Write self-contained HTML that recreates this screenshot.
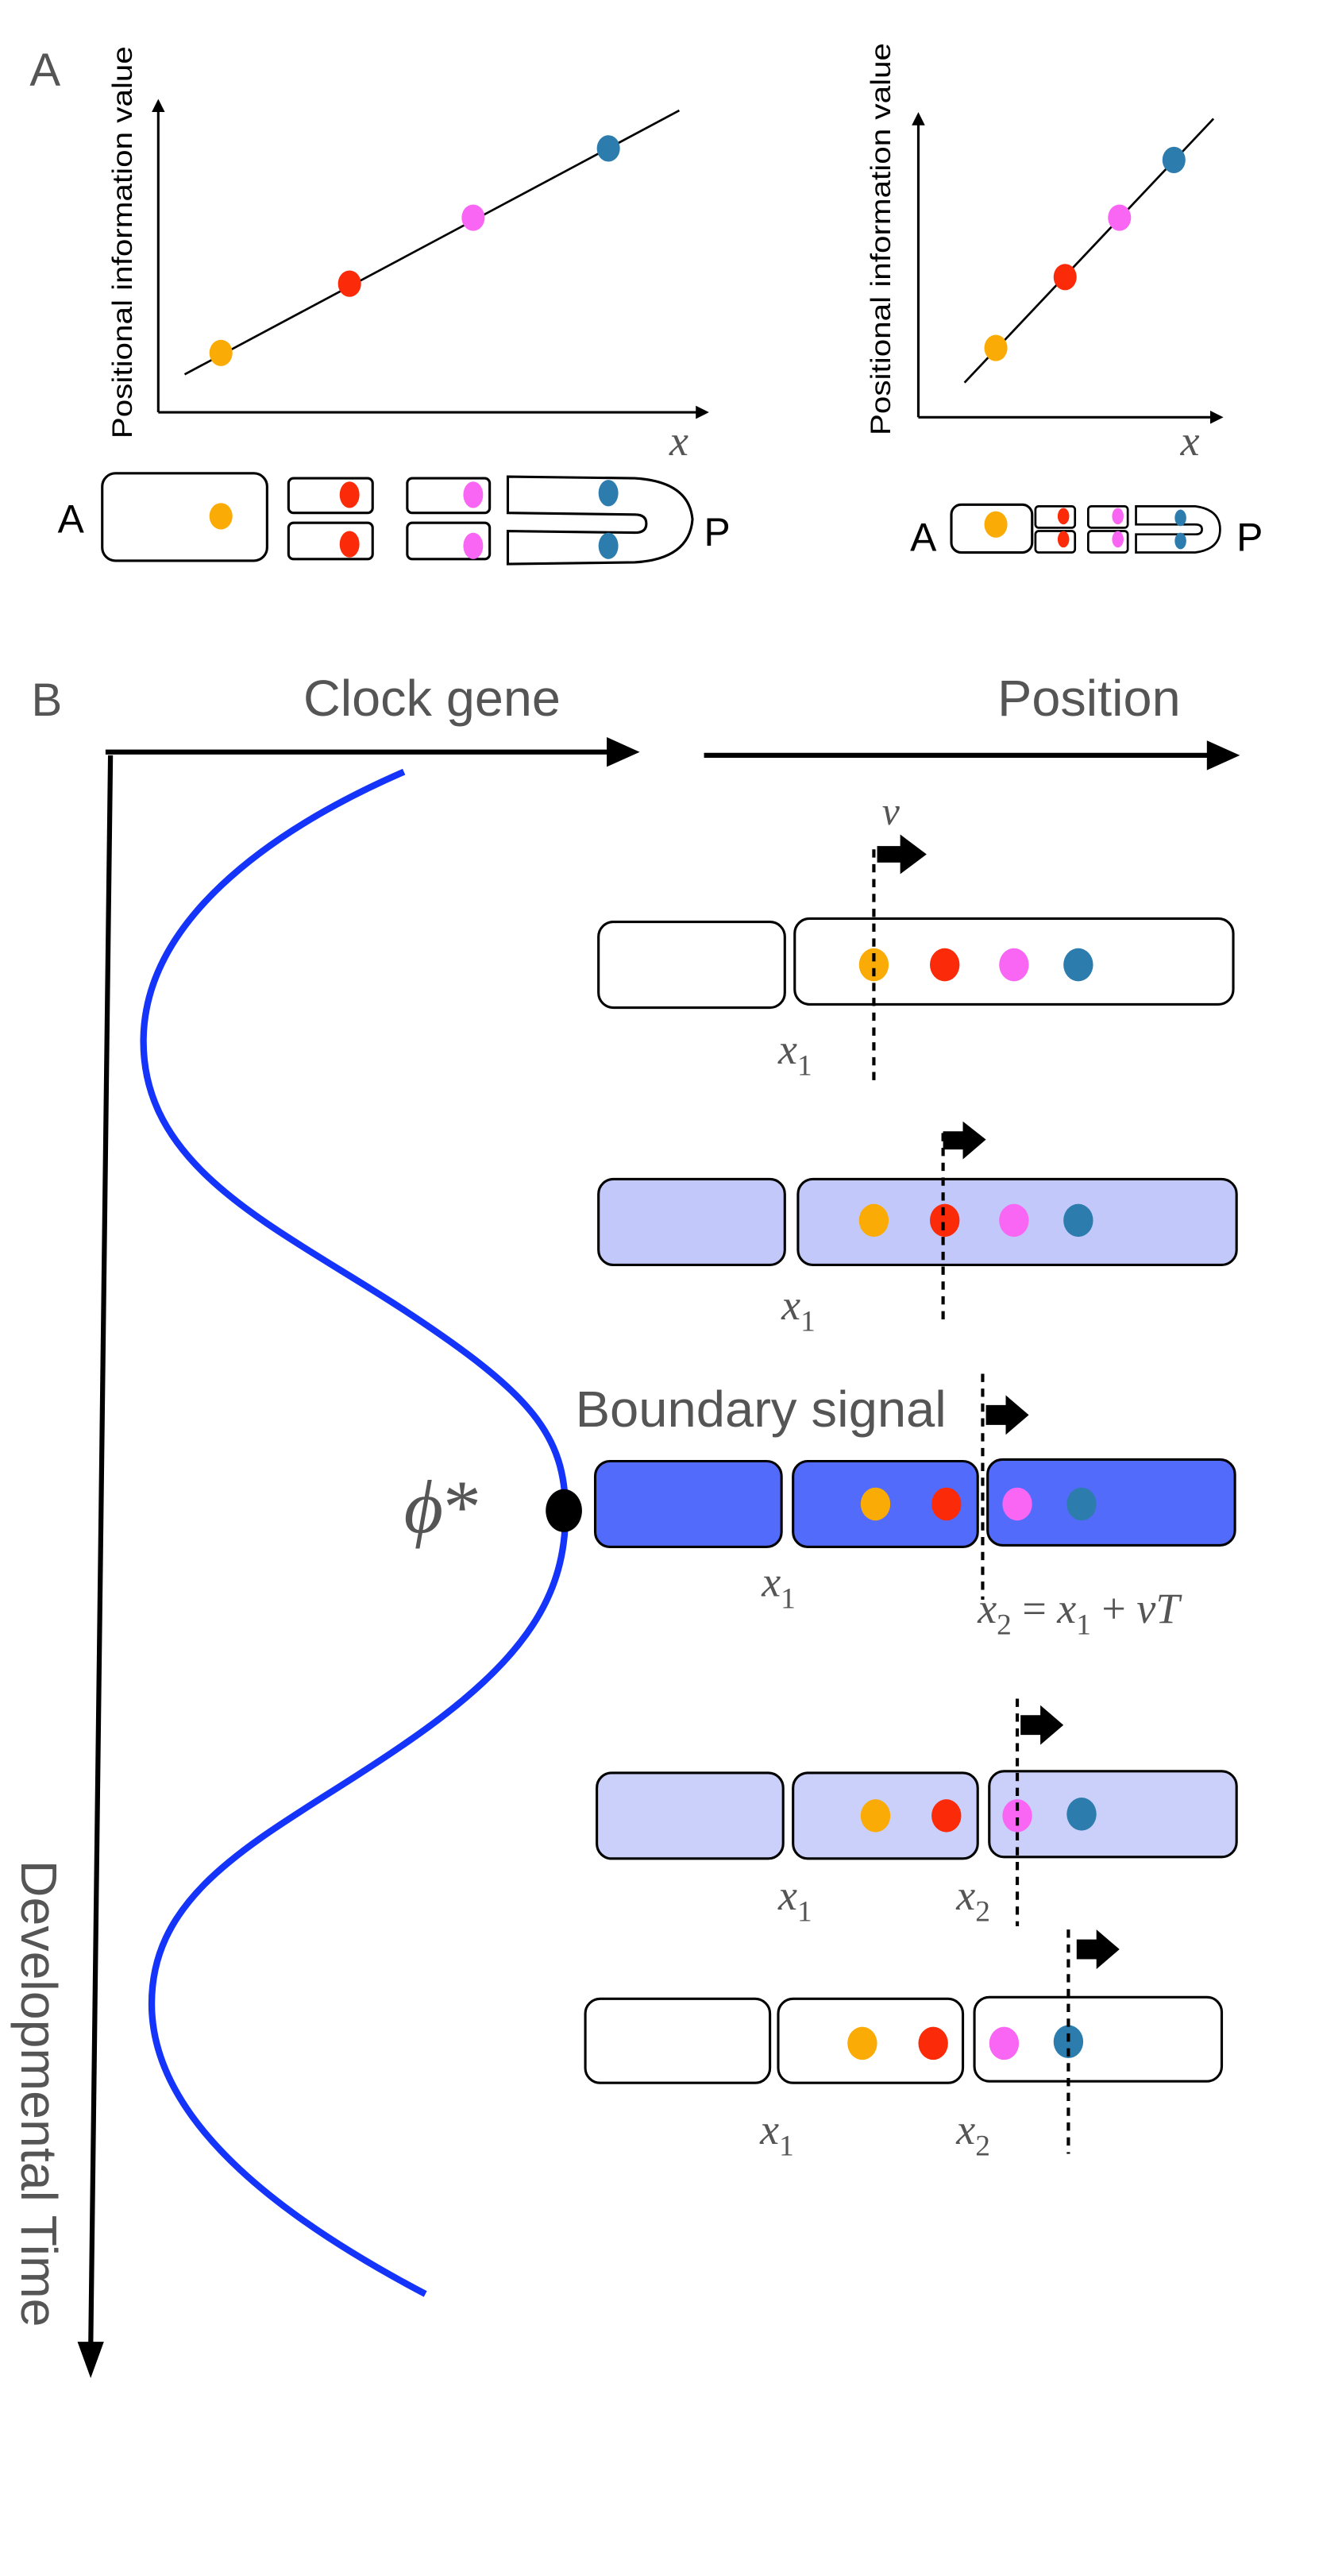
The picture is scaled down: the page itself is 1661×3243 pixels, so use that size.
<!DOCTYPE html>
<html><head><meta charset="utf-8"><style>
html,body{margin:0;padding:0;background:#fff;}
svg{display:block;}
.s{font-family:"Liberation Sans",sans-serif;fill:#555;}
.m{font-family:"Liberation Serif",serif;font-style:italic;fill:#555;}
</style></head><body>
<svg width="1661" height="3243" viewBox="0 0 800 1562" preserveAspectRatio="none" xmlns="http://www.w3.org/2000/svg">
<defs>
<marker id="ah" markerWidth="8" markerHeight="8" refX="6" refY="4" orient="auto" markerUnits="userSpaceOnUse"><path d="M0,0 L8,4 L0,8 Z" fill="#000"/></marker>
</defs>
<!-- Panel A -->
<text class="s" x="18" y="52" font-size="28">A</text>
<line x1="96" y1="250" x2="96" y2="62" stroke="#000" stroke-width="1.5" marker-end="url(#ah)"/>
<line x1="96" y1="250" x2="428" y2="250" stroke="#000" stroke-width="1.5" marker-end="url(#ah)"/>
<line x1="112" y1="227" x2="412" y2="67" stroke="#000" stroke-width="1.3"/>
<text class="s" font-size="17" transform="translate(80,147) rotate(-90)" text-anchor="middle" textLength="238" lengthAdjust="spacingAndGlyphs" style="fill:#000">Positional information value</text>
<ellipse cx="134" cy="214" rx="7" ry="8" fill="#fbab05"/>
<ellipse cx="212" cy="172" rx="7" ry="8" fill="#fb2a08"/>
<ellipse cx="287" cy="132" rx="7" ry="8" fill="#f966f4"/>
<ellipse cx="369" cy="90" rx="7" ry="8" fill="#2d7cae"/>
<text class="m" x="406" y="276" font-size="26">x</text>

<line x1="557" y1="253" x2="557" y2="70" stroke="#000" stroke-width="1.5" marker-end="url(#ah)"/>
<line x1="557" y1="253" x2="740" y2="253" stroke="#000" stroke-width="1.5" marker-end="url(#ah)"/>
<line x1="585" y1="232" x2="736" y2="72" stroke="#000" stroke-width="1.3"/>
<text class="s" font-size="17" transform="translate(540,145) rotate(-90)" text-anchor="middle" textLength="238" lengthAdjust="spacingAndGlyphs" style="fill:#000">Positional information value</text>
<ellipse cx="604" cy="211" rx="7" ry="8" fill="#fbab05"/>
<ellipse cx="646" cy="168" rx="7" ry="8" fill="#fb2a08"/>
<ellipse cx="679" cy="132" rx="7" ry="8" fill="#f966f4"/>
<ellipse cx="712" cy="97" rx="7" ry="8" fill="#2d7cae"/>
<text class="m" x="716" y="276" font-size="26">x</text>

<!-- left embryo -->
<text x="35" y="323" font-family="Liberation Sans,sans-serif" font-size="24">A</text>
<rect x="62" y="287" width="100" height="53" rx="8" fill="#fff" stroke="#000" stroke-width="1.5"/>
<ellipse cx="134" cy="313" rx="7" ry="8" fill="#fbab05"/>
<rect x="175" y="290" width="51" height="21" rx="3" fill="#fff" stroke="#000" stroke-width="1.5"/>
<rect x="175" y="317" width="51" height="22" rx="3" fill="#fff" stroke="#000" stroke-width="1.5"/>
<ellipse cx="212" cy="300" rx="6" ry="8" fill="#fb2a08"/>
<ellipse cx="212" cy="330" rx="6" ry="8" fill="#fb2a08"/>
<rect x="247" y="290" width="50" height="21" rx="3" fill="#fff" stroke="#000" stroke-width="1.5"/>
<rect x="247" y="317" width="50" height="22" rx="3" fill="#fff" stroke="#000" stroke-width="1.5"/>
<ellipse cx="287" cy="300" rx="6" ry="8" fill="#f966f4"/>
<ellipse cx="287" cy="331" rx="6" ry="8" fill="#f966f4"/>
<path d="M308,289 L385,290 Q418,292 420,315 Q418,339 385,341 L308,342 L308,322 L385,323 Q392,323 392,317.5 Q392,312 385,312 L308,311 Z" fill="#fff" stroke="#000" stroke-width="1.5"/>
<ellipse cx="369" cy="299" rx="6" ry="8" fill="#2d7cae"/>
<ellipse cx="369" cy="331" rx="6" ry="8" fill="#2d7cae"/>
<text x="427" y="331" font-family="Liberation Sans,sans-serif" font-size="24">P</text>

<!-- right embryo -->
<text x="552" y="334" font-family="Liberation Sans,sans-serif" font-size="24">A</text>
<rect x="577" y="306" width="49" height="29" rx="6" fill="#fff" stroke="#000" stroke-width="1.5"/>
<ellipse cx="604" cy="318" rx="7" ry="8" fill="#fbab05"/>
<rect x="628" y="307" width="24" height="13" rx="2" fill="#fff" stroke="#000" stroke-width="1.3"/>
<rect x="628" y="322" width="24" height="13" rx="2" fill="#fff" stroke="#000" stroke-width="1.3"/>
<ellipse cx="645" cy="313" rx="3.5" ry="5" fill="#fb2a08"/>
<ellipse cx="645" cy="327" rx="3.5" ry="5" fill="#fb2a08"/>
<rect x="660" y="307" width="24" height="13" rx="2" fill="#fff" stroke="#000" stroke-width="1.3"/>
<rect x="660" y="322" width="24" height="13" rx="2" fill="#fff" stroke="#000" stroke-width="1.3"/>
<ellipse cx="678" cy="313" rx="3.5" ry="5" fill="#f966f4"/>
<ellipse cx="678" cy="327" rx="3.5" ry="5" fill="#f966f4"/>
<path d="M689,307 L725,307 Q740,309 740,321 Q740,333 725,335 L689,335 L689,324 L725,324 Q729,324 729,321 Q729,318 725,318 L689,318 Z" fill="#fff" stroke="#000" stroke-width="1.3"/>
<ellipse cx="716" cy="314" rx="3.5" ry="5" fill="#2d7cae"/>
<ellipse cx="716" cy="328" rx="3.5" ry="5" fill="#2d7cae"/>
<text x="750" y="334" font-family="Liberation Sans,sans-serif" font-size="24">P</text>

<!-- Panel B -->
<text class="s" x="19" y="434" font-size="28">B</text>
<text class="s" x="184" y="434" font-size="31" textLength="156" lengthAdjust="spacingAndGlyphs">Clock gene</text>
<text class="s" x="605" y="434" font-size="31" textLength="111" lengthAdjust="spacingAndGlyphs">Position</text>
<line x1="64" y1="456" x2="372" y2="456" stroke="#000" stroke-width="3"/>
<path d="M368,447 L388,456 L368,465 Z" fill="#000"/>
<line x1="427" y1="458" x2="736" y2="458" stroke="#000" stroke-width="3"/>
<path d="M732,449 L752,458 L732,467 Z" fill="#000"/>
<line x1="67" y1="458" x2="55" y2="1425" stroke="#000" stroke-width="3"/>
<path d="M47,1420 L55,1442 L63,1420 Z" fill="#000"/>
<text class="s" font-size="31" transform="translate(13,1128) rotate(90)" textLength="283" lengthAdjust="spacingAndGlyphs">Developmental Time</text>

<path d="M245,468 C160,505 88,560 87,630 C86,710 170,745 246,795 C322,845 343,870 343,917 C343,965 322,1005 246,1057 C170,1110 92,1140 92,1215 C92,1290 180,1350 258,1391" fill="none" stroke="#1433fb" stroke-width="4"/>

<!-- row 1 -->
<rect x="363" y="559" width="113" height="52" rx="9" fill="#fff" stroke="#000" stroke-width="1.5"/>
<rect x="482" y="557" width="266" height="52" rx="9" fill="#fff" stroke="#000" stroke-width="1.5"/>
<ellipse cx="530" cy="585" rx="9" ry="10" fill="#fbab05"/>
<ellipse cx="573" cy="585" rx="9" ry="10" fill="#fb2a08"/>
<ellipse cx="615" cy="585" rx="9" ry="10" fill="#f966f4"/>
<ellipse cx="654" cy="585" rx="9" ry="10" fill="#2d7cae"/>
<line x1="530" y1="515" x2="530" y2="656" stroke="#000" stroke-width="2" stroke-dasharray="5,4"/>
<path d="M532,513 L546,513 L546,506 L562,518 L546,530 L546,523 L532,523 Z" fill="#000"/>
<text class="m" x="535" y="500" font-size="24">v</text>
<text class="m" x="472" y="645" font-size="26">x<tspan font-size="18" font-style="normal" dy="7">1</tspan></text>

<!-- row 2 -->
<rect x="363" y="715" width="113" height="52" rx="9" fill="#c3c8fb" stroke="#000" stroke-width="1.5"/>
<rect x="484" y="715" width="266" height="52" rx="9" fill="#c3c8fb" stroke="#000" stroke-width="1.5"/>
<ellipse cx="530" cy="740" rx="9" ry="10" fill="#fbab05"/>
<ellipse cx="573" cy="740" rx="9" ry="10" fill="#fb2a08"/>
<ellipse cx="615" cy="740" rx="9" ry="10" fill="#f966f4"/>
<ellipse cx="654" cy="740" rx="9" ry="10" fill="#2d7cae"/>
<line x1="572" y1="687" x2="572" y2="800" stroke="#000" stroke-width="2" stroke-dasharray="5,4"/>
<path d="M572,686 L584,686 L584,680 L598,691 L584,703 L584,697 L572,697 Z" fill="#000"/>
<text class="m" x="474" y="800" font-size="26">x<tspan font-size="18" font-style="normal" dy="7">1</tspan></text>

<!-- row 3 -->
<text class="s" x="349" y="865" font-size="31" textLength="225" lengthAdjust="spacingAndGlyphs">Boundary signal</text>
<text class="m" x="245" y="929" font-size="46">ϕ<tspan font-style="normal">*</tspan></text>
<rect x="361" y="886" width="113" height="52" rx="9" fill="#536bfa" stroke="#000" stroke-width="1.5"/>
<rect x="481" y="886" width="112" height="52" rx="9" fill="#536bfa" stroke="#000" stroke-width="1.5"/>
<rect x="599" y="885" width="150" height="52" rx="9" fill="#536bfa" stroke="#000" stroke-width="1.5"/>
<ellipse cx="531" cy="912" rx="9" ry="10" fill="#fbab05"/>
<ellipse cx="574" cy="912" rx="9" ry="10" fill="#fb2a08"/>
<ellipse cx="617" cy="912" rx="9" ry="10" fill="#f966f4"/>
<ellipse cx="656" cy="912" rx="9" ry="10" fill="#2d7cae"/>
<line x1="596" y1="833" x2="596" y2="970" stroke="#000" stroke-width="2" stroke-dasharray="5,4"/>
<path d="M598,852 L610,852 L610,846 L624,858 L610,870 L610,864 L598,864 Z" fill="#000"/>
<ellipse cx="342" cy="916" rx="11" ry="13" fill="#000"/>
<text class="m" x="462" y="968" font-size="26">x<tspan font-size="18" font-style="normal" dy="7">1</tspan></text>
<text class="m" x="593" y="984" font-size="26">x<tspan font-size="18" font-style="normal" dy="7">2</tspan><tspan font-style="normal" dy="-7"> = </tspan>x<tspan font-size="18" font-style="normal" dy="7">1</tspan><tspan font-style="normal" dy="-7"> + </tspan>vT</text>

<!-- row 4 -->
<rect x="362" y="1075" width="113" height="52" rx="9" fill="#cbd0fb" stroke="#000" stroke-width="1.5"/>
<rect x="481" y="1075" width="112" height="52" rx="9" fill="#cbd0fb" stroke="#000" stroke-width="1.5"/>
<rect x="600" y="1074" width="150" height="52" rx="9" fill="#cbd0fb" stroke="#000" stroke-width="1.5"/>
<ellipse cx="531" cy="1101" rx="9" ry="10" fill="#fbab05"/>
<ellipse cx="574" cy="1101" rx="9" ry="10" fill="#fb2a08"/>
<ellipse cx="617" cy="1101" rx="9" ry="10" fill="#f966f4"/>
<ellipse cx="656" cy="1100" rx="9" ry="10" fill="#2d7cae"/>
<line x1="617" y1="1030" x2="617" y2="1168" stroke="#000" stroke-width="2" stroke-dasharray="5,4"/>
<path d="M619,1040 L631,1040 L631,1034 L645,1046 L631,1058 L631,1052 L619,1052 Z" fill="#000"/>
<text class="m" x="472" y="1158" font-size="26">x<tspan font-size="18" font-style="normal" dy="7">1</tspan></text>
<text class="m" x="580" y="1158" font-size="26">x<tspan font-size="18" font-style="normal" dy="7">2</tspan></text>

<!-- row 5 -->
<rect x="355" y="1212" width="112" height="51" rx="9" fill="#fff" stroke="#000" stroke-width="1.5"/>
<rect x="472" y="1212" width="112" height="51" rx="9" fill="#fff" stroke="#000" stroke-width="1.5"/>
<rect x="591" y="1211" width="150" height="51" rx="9" fill="#fff" stroke="#000" stroke-width="1.5"/>
<ellipse cx="523" cy="1239" rx="9" ry="10" fill="#fbab05"/>
<ellipse cx="566" cy="1239" rx="9" ry="10" fill="#fb2a08"/>
<ellipse cx="609" cy="1239" rx="9" ry="10" fill="#f966f4"/>
<ellipse cx="648" cy="1238" rx="9" ry="10" fill="#2d7cae"/>
<line x1="648" y1="1170" x2="648" y2="1306" stroke="#000" stroke-width="2" stroke-dasharray="5,4"/>
<path d="M653,1176 L665,1176 L665,1170 L679,1182 L665,1194 L665,1188 L653,1188 Z" fill="#000"/>
<text class="m" x="461" y="1300" font-size="26">x<tspan font-size="18" font-style="normal" dy="7">1</tspan></text>
<text class="m" x="580" y="1300" font-size="26">x<tspan font-size="18" font-style="normal" dy="7">2</tspan></text>
</svg>
</body></html>
